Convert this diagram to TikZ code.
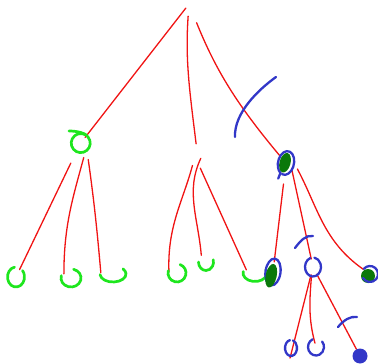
\documentclass[tikz,border=0pt]{standalone}
\usepackage{tikz}
\usepackage{xcolor}
\usetikzlibrary{positioning,calc}
\definecolor{inkred}{RGB}{240,20,20}
\definecolor{inkgreen}{RGB}{30,230,30}
\definecolor{inkdkgreen}{RGB}{10,120,10}
\definecolor{inkblue}{RGB}{50,55,200}

\begin{document}
\begin{tikzpicture}[x=1pt, y=1pt]
  \tikzset{
    spot/.style={circle, inner sep=0pt, minimum size=#1},
    spot/.default=16pt,
    branch/.style={draw=inkred, line width=1.3pt, line cap=round},
    leafline/.style={draw=inkgreen, line width=2.7pt, line cap=round},
    inkline/.style={draw=inkblue, line width=2.3pt, line cap=round}
  }
  \useasboundingbox (0,0) rectangle (378,-364);

  % tree nodes (hidden spots, marks drawn on top)
  \node[spot=4pt]  (R)  at (189,-4) {};
  \node[spot]      (L)  at (80,-144) {};
  \node[spot=14pt] (M)  at (197,-151) {};
  \node[spot=18pt] (A)  at (286,-163) {};
  \node[spot]      (l1) at (16,-277) {};
  \node[spot]      (l2) at (71,-278) {};
  \node[spot=24pt] (l3) at (113,-274) {};
  \node[spot]      (l4) at (177,-273) {};
  \node[spot]      (l5) at (206,-262) {};
  \node[spot=18pt] (l6) at (255,-273) {};
  \node[spot=20pt] (Q)  at (273,-272) {};
  \node[spot]      (B)  at (313,-267) {};
  \node[spot]      (C)  at (370,-274) {};
  \node[spot=12pt] (D1) at (291,-348) {};
  \node[spot]      (D2) at (316,-347) {};
  \node[spot=15pt] (D3) at (360,-356) {};

  % branches from the root
  \draw[branch, shorten <=3pt] (R) -- (L);
  \draw[branch, shorten <=10pt] (R) to[out=-94, in=97] (M);
  \draw[branch, shorten <=18pt] (R) to[bend right=9] (A);

  % left subtree
  \draw[branch, shorten <=13pt] (L) -- (l1);
  \draw[branch, shorten <=8pt] (L.-45) to[out=-105, in=90] (l2.150);
  \draw[branch, shorten <=11pt] (L.-35) to[out=-82, in=95] (l3.175);

  % middle subtree
  \draw[branch, shorten <=8pt] (M.-110) to[out=-105, in=92] (l4.170);
  \draw[branch, shorten <=2pt] (M.-50) to[out=-115, in=95] (l5.125);
  \draw[branch, shorten <=11pt] (M.-100) -- (l6.160);

  % right subtree
  \draw[branch, shorten <=12pt] (A) -- (Q);
  \draw[branch] (A.-50) -- (B);
  \draw[branch, shorten <=5pt] (A.-10) to[out=-62, in=145] (C);
  \draw[branch, shorten >=-4pt] (B) -- (D1.south);
  \draw[branch, shorten >=4pt] (B.-100) to[out=-95, in=105] (D2.center);
  \draw[branch] (B) -- (D3);

  % green loops
  \draw[leafline] (L) ++(-11,13) .. controls +(8,0) and +(-2,4) .. ++(19,-6)
    arc[start angle=40, end angle=-300, radius=9.5];
  \draw[leafline] (l1) ++(100:8.5 and 10) arc[start angle=100, end angle=400, x radius=8.5, y radius=10];
  \draw[leafline] (l2) ++(165:10 and 9) arc[start angle=165, end angle=435, x radius=10, y radius=9];
  \draw[leafline] (l3) ++(185:13 and 8) arc[start angle=185, end angle=400, x radius=13, y radius=8];
  \draw[leafline] (l4) ++(165:9 and 9) arc[start angle=165, end angle=430, radius=9];
  \draw[leafline] (l5) ++(180:7.5 and 8.5) arc[start angle=180, end angle=375, x radius=7.5, y radius=8.5];
  \draw[leafline] (l6) ++(170:12 and 8.5) arc[start angle=170, end angle=385, x radius=12, y radius=8.5];

  % blue and dark green marks
  \draw[inkline, rotate around={-12:(A)}] (A) ++(-100:8 and 12)
    arc[start angle=-100, end angle=245, x radius=8, y radius=12] -- ++(-1,-6);
  \fill[inkdkgreen, rotate around={-15:(A)}] ([xshift=-1pt]A.center) ellipse[x radius=5.5, y radius=10];
  \draw[inkline, rotate around={-8:(Q)}] (Q) ellipse[x radius=7.5, y radius=13.5];
  \fill[inkdkgreen, rotate around={-12:(Q)}] ([shift={(-1,-4)}]Q.center) ellipse[x radius=5.5, y radius=12];
  \fill[inkdkgreen] ([shift={(-2,-2)}]C.center) circle[radius=7];
  \draw[inkline] (C) ++(140:8) arc[start angle=140, end angle=-150, radius=8];
  \draw[inkline] (B) ++(110:8 and 9.5) arc[start angle=110, end angle=440, x radius=8, y radius=9.5];
  \draw[inkline] (D1) ++(100:6 and 8) arc[start angle=100, end angle=430, x radius=6, y radius=8];
  \draw[inkline] (D2) ++(115:8 and 8.5) arc[start angle=115, end angle=400, x radius=8, y radius=8.5];
  \fill[inkblue] (D3) circle[radius=7.5];

  % cut strokes
  \draw[inkline] (276,-77) .. controls (258,-90) and (234,-113) .. (235,-137);
  \draw[inkline] (295,-248) .. controls (301,-240) and (306,-235) .. (313,-236);
  \draw[inkline] (338,-327) .. controls (344,-320) and (350,-316) .. (357,-317);
\end{tikzpicture}
\end{document}
